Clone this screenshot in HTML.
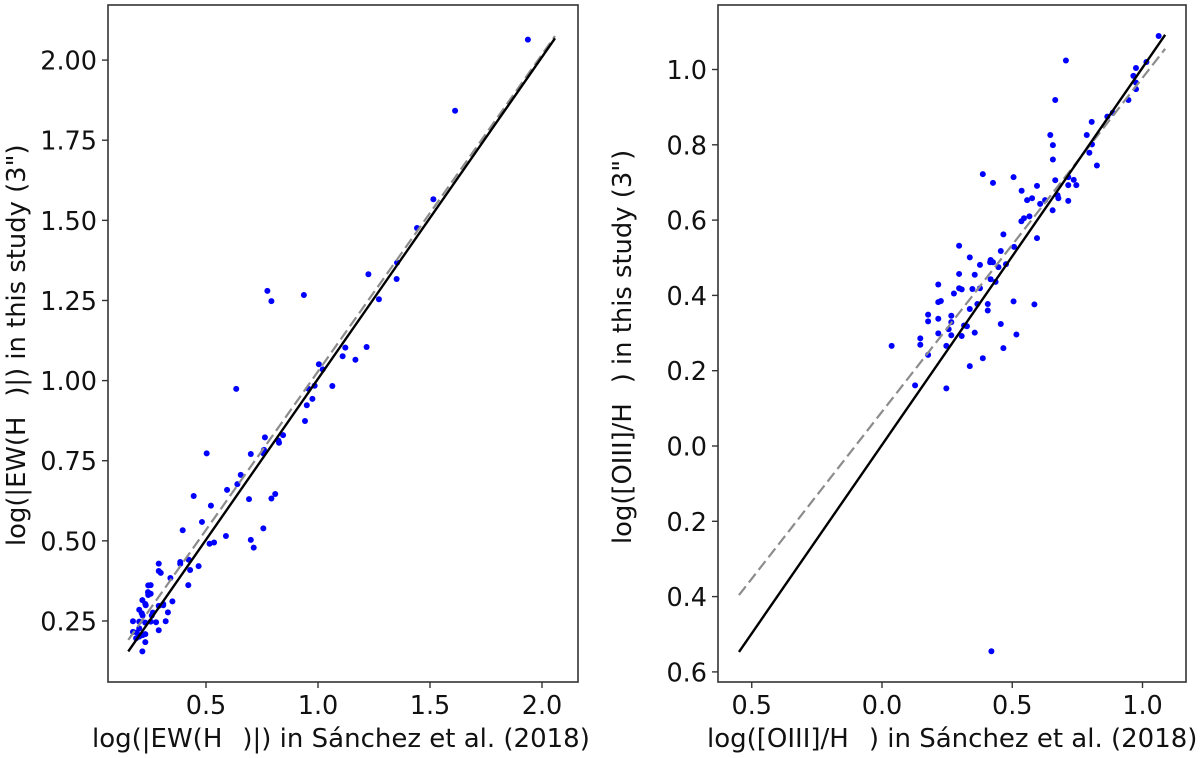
<!DOCTYPE html>
<html lang="en">
<head>
<meta charset="utf-8">
<title>EW and OIII comparison scatter plots</title>
<style>
html,body{margin:0;padding:0;background:#fff;width:1200px;height:758px;overflow:hidden}
svg{display:block;filter:blur(0.35px)}
text{font-family:"DejaVu Sans","Liberation Sans",sans-serif;fill:#111}
.tick{font-size:25.5px}
.lab{font-size:26px;white-space:pre}
</style>
</head>
<body>
<svg id="fig" xmlns="http://www.w3.org/2000/svg" width="1200" height="758" viewBox="0 0 1200 758">
  <rect width="1200" height="758" fill="#fff"/>
  <g id="left"></g>
  <g id="right"></g>
  <text class="lab" x="92" y="747">log(|EW(H<tspan dx="20">)|) in Sánchez et al. (2018)</tspan></text>
  <text class="lab" style="font-size:25.8px" transform="translate(25,546) rotate(-90)">log(|EW(H<tspan dx="20">)|) in this study (3")</tspan></text>
  <text class="lab" x="707" y="747">log([OIII]/H<tspan dx="20">) in Sánchez et al. (2018)</tspan></text>
  <text class="lab" style="font-size:25.8px" transform="translate(631,544) rotate(-90)">log([OIII]/H<tspan dx="20">) in this study (3")</tspan></text>
</svg>
<script>
// Left panel data
const ewX = [1.937,1.612,1.515,1.442,1.353,1.225,1.351,1.272,0.774,0.792,0.937,1.122,1.217,1.110,1.167,1.004,1.021,0.985,0.958,1.064,0.635,0.975,0.950,0.942,0.844,0.763,0.823,0.826,0.759,0.756,0.700,0.503,0.655,0.640,0.594,0.445,0.692,0.809,0.792,0.522,0.482,0.756,0.396,0.589,0.700,0.713,0.536,0.516,0.423,0.385,0.385,0.289,0.467,0.429,0.289,0.298,0.341,0.242,0.253,0.421,0.241,0.242,0.253,0.216,0.229,0.231,0.350,0.309,0.309,0.289,0.202,0.263,0.213,0.217,0.258,0.330,0.174,0.202,0.229,0.253,0.277,0.320,0.174,0.191,0.202,0.229,0.217,0.188,0.202,0.289,0.229,0.216];
const ewY = [2.064,1.842,1.566,1.476,1.368,1.332,1.317,1.254,1.280,1.248,1.267,1.103,1.105,1.076,1.065,1.051,1.035,0.984,0.974,0.983,0.974,0.943,0.923,0.874,0.830,0.823,0.813,0.806,0.784,0.773,0.771,0.773,0.706,0.677,0.659,0.640,0.630,0.646,0.632,0.610,0.559,0.539,0.533,0.515,0.503,0.479,0.495,0.491,0.441,0.434,0.428,0.429,0.421,0.409,0.406,0.400,0.384,0.361,0.362,0.362,0.340,0.331,0.335,0.315,0.303,0.299,0.311,0.303,0.299,0.297,0.285,0.276,0.274,0.267,0.267,0.277,0.249,0.248,0.245,0.248,0.246,0.249,0.216,0.214,0.227,0.209,0.206,0.196,0.201,0.221,0.184,0.155];
const ewFitX = [0.153,2.058];
const ewFitY = [0.155,2.068];
const ewRefX = [0.153,2.058];
const ewRefY = [0.191,2.075];
const ewXTicks = [0.5,1.0,1.5,2.0];
const ewXTickLabels = ["0.5","1.0","1.5","2.0"];
const ewYTicks = [0.25,0.5,0.75,1.0,1.25,1.5,1.75,2.0];
const ewYTickLabels = ["0.25","0.50","0.75","1.00","1.25","1.50","1.75","2.00"];

// Right panel data
const oiiiX = [0.557,0.607,0.655,0.566,0.545,0.535,0.466,0.595,0.296,0.507,0.456,0.337,0.417,0.415,0.426,0.376,0.476,0.447,0.296,0.356,0.417,0.436,0.216,0.296,0.306,0.347,0.376,0.276,0.216,0.226,0.505,0.585,0.366,0.406,0.337,0.406,0.177,0.266,0.216,0.177,0.266,0.315,0.326,0.456,0.256,0.216,0.356,0.266,0.306,0.516,0.147,0.147,0.037,0.247,0.466,0.177,0.387,0.337,0.127,0.247,1.062,1.015,0.975,0.965,0.975,0.975,0.946,0.706,0.665,0.886,0.865,0.805,0.786,0.646,0.656,0.806,0.796,0.656,0.825,0.387,0.426,0.505,0.595,0.536,0.665,0.715,0.736,0.715,0.746,0.576,0.626,0.674,0.677,0.715,0.420];
const oiiiY = [0.653,0.643,0.626,0.610,0.605,0.597,0.562,0.552,0.532,0.529,0.518,0.501,0.494,0.488,0.488,0.481,0.483,0.475,0.457,0.455,0.443,0.436,0.429,0.419,0.416,0.417,0.419,0.405,0.382,0.385,0.384,0.376,0.377,0.377,0.364,0.360,0.349,0.346,0.338,0.331,0.329,0.320,0.318,0.324,0.310,0.299,0.301,0.294,0.292,0.296,0.286,0.269,0.266,0.266,0.260,0.242,0.233,0.212,0.161,0.153,1.089,1.020,1.004,0.983,0.965,0.948,0.919,1.024,0.919,0.885,0.875,0.861,0.826,0.826,0.799,0.801,0.779,0.761,0.745,0.722,0.699,0.714,0.691,0.678,0.706,0.714,0.707,0.693,0.693,0.658,0.653,0.666,0.658,0.651,-0.545];
const oiiiFitX = [-0.549,1.087];
const oiiiFitY = [-0.547,1.092];
const oiiiRefX = [-0.549,1.087];
const oiiiRefY = [-0.396,1.055];
const oiiiXTicks = [-0.5,0,0.5,1.0];
const oiiiXTickLabels = ["0.5","0.0","0.5","1.0"];
const oiiiYTicks = [-0.6,-0.4,-0.2,0,0.2,0.4,0.6,0.8,1.0];
const oiiiYTickLabels = ["0.6","0.4","0.2","0.0","0.2","0.4","0.6","0.8","1.0"];

const NS = "http://www.w3.org/2000/svg";

function line(parent, x1, y1, x2, y2, stroke, width) {
  const l = document.createElementNS(NS, "line");
  l.setAttribute("x1", x1);
  l.setAttribute("y1", y1);
  l.setAttribute("x2", x2);
  l.setAttribute("y2", y2);
  l.setAttribute("stroke", stroke);
  l.setAttribute("stroke-width", width);
  parent.appendChild(l);
  return l;
}

function label(parent, x, y, txt, anchor) {
  const t = document.createElementNS(NS, "text");
  t.setAttribute("x", x);
  t.setAttribute("y", y);
  t.setAttribute("text-anchor", anchor);
  t.setAttribute("class", "tick");
  t.textContent = txt;
  parent.appendChild(t);
  return t;
}

function panel(g, box, sx, sy, xs, ys, fitX, fitY, refX, refY, xT, xL, yT, yL) {
  const X = v => sx.origin + v * sx.scale;
  const Y = v => sy.origin - v * sy.scale;

  const frame = document.createElementNS(NS, "rect");
  frame.setAttribute("x", box.l);
  frame.setAttribute("y", box.t);
  frame.setAttribute("width", box.r - box.l);
  frame.setAttribute("height", box.b - box.t);
  frame.setAttribute("fill", "none");
  frame.setAttribute("stroke", "#333");
  frame.setAttribute("stroke-width", "1.6");
  
  
  g.appendChild(frame);

  xT.forEach((v, i) => {
    const tk = line(g, X(v), box.b, X(v), box.b + 6, "#333", 1.4);
    
    
    const t = label(g, X(v), 714, xL[i], "middle");
    
    
  });

  yT.forEach((v, i) => {
    const tk = line(g, box.l - 6, Y(v), box.l, Y(v), "#333", 1.4);
    
    
    const t = label(g, box.l - 11, Y(v) + 9.5, yL[i], "end");
    
    
  });

  xs.forEach((v, i) => {
    const c = document.createElementNS(NS, "circle");
    c.setAttribute("cx", X(v));
    c.setAttribute("cy", Y(ys[i]));
    c.setAttribute("r", "3");
    c.setAttribute("fill", "#0000ff");
    
    
    g.appendChild(c);
  });

  const ref = line(g, X(refX[0]), Y(refY[0]), X(refX[1]), Y(refY[1]), "#8c8c8c", 2.2);
  ref.setAttribute("stroke-dasharray", "11 5");
  
  

  const fit = line(g, X(fitX[0]), Y(fitY[0]), X(fitX[1]), Y(fitY[1]), "#000", 2.4);
  
  
}

panel(document.getElementById("left"),
  {l:108, r:578, t:5, b:682},
  {origin:94, scale:224},
  {origin:701.1, scale:320.5},
  ewX, ewY, ewFitX, ewFitY, ewRefX, ewRefY,
  ewXTicks, ewXTickLabels, ewYTicks, ewYTickLabels);

panel(document.getElementById("right"),
  {l:718, r:1186, t:5, b:682},
  {origin:882, scale:260.5},
  {origin:446, scale:376.5},
  oiiiX, oiiiY, oiiiFitX, oiiiFitY, oiiiRefX, oiiiRefY,
  oiiiXTicks, oiiiXTickLabels, oiiiYTicks, oiiiYTickLabels);
</script>
</body>
</html>
